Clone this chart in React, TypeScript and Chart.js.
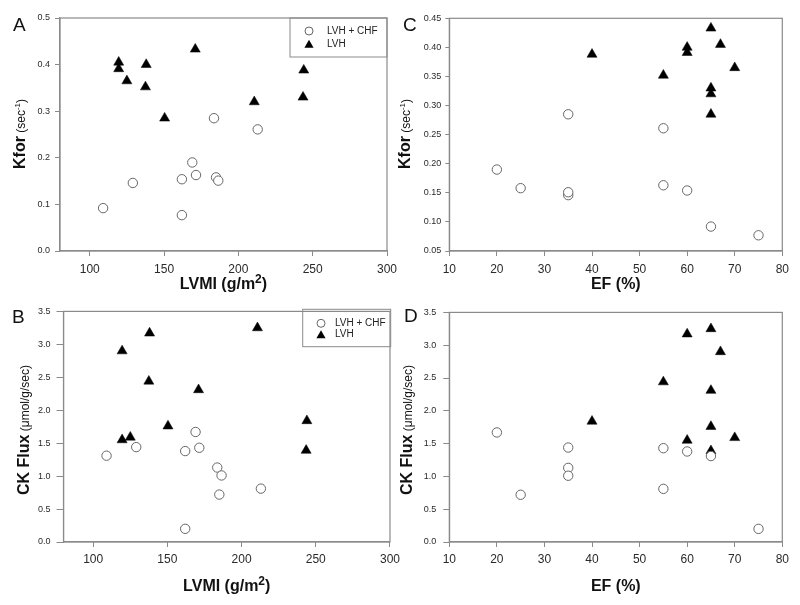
import React, { useEffect, useRef } from "react";
import { Chart, registerables } from "chart.js";

Chart.register(...registerables);

const FONT = "'Liberation Sans', Arial, Helvetica, sans-serif";

// ---- Data: LVH + CHF group (one entry per patient) ----
const chfLVMI = [109, 129, 162, 162, 169, 171.5, 183.6, 185, 186.5, 213];
const chfEF = [65, 35, 60, 75, 20, 55, 35, 25, 35, 55];
const chfKfor = [0.092, 0.146, 0.154, 0.077, 0.19, 0.163, 0.285, 0.158, 0.151, 0.261];
const chfCKFlux = [1.31, 1.44, 1.38, 0.2, 1.67, 1.43, 1.13, 0.72, 1.01, 0.81];

// ---- Data: LVH group ----
const lvhLVMI = [119.5, 119.5, 125, 138, 137.5, 150.4, 171, 210.7, 244, 243.5];
const lvhEF = [67, 60, 70, 60, 55, 65, 65, 65, 40, 65];
const lvhKfor = [0.405, 0.391, 0.365, 0.4, 0.352, 0.285, 0.433, 0.32, 0.388, 0.33];
const lvhCKFlux = [2.9, 1.55, 1.59, 3.17, 2.44, 1.76, 2.31, 3.25, 1.84, 1.39];

const seriesNames = ["LVH + CHF", "LVH"];

// ---- Axis ranges and tick labels ----
const lvmiRange = [80, 300];
const lvmiTicks = [100, 150, 200, 250, 300];
const efTicks = [10, 20, 30, 40, 50, 60, 70, 80];
const kforTicksA = [0, 0.1, 0.2, 0.3, 0.4, 0.5];
const kforTicksC = [0.05, 0.1, 0.15, 0.2, 0.25, 0.3, 0.35, 0.4, 0.45];
const ckTicks = [0, 0.5, 1, 1.5, 2, 2.5, 3, 3.5];

const AXIS = "#8a8a8a";
const TEXT = "#111";
const TICKTEXT = "#2a2a2a";

type Seg = { text: string; font: string; rise?: number };

const kforTitle: Seg[] = [
  { text: "Kfor", font: `bold 16px ${FONT}` },
  { text: " (sec", font: `12px ${FONT}` },
  { text: "-1", font: `8px ${FONT}`, rise: 5 },
  { text: ")", font: `12px ${FONT}` },
];
const ckTitle: Seg[] = [
  { text: "CK Flux", font: `bold 16px ${FONT}` },
  { text: " (\u03bcmol/g/sec)", font: `12px ${FONT}` },
];
const lvmiTitle: Seg[] = [
  { text: "LVMI (g/m", font: `bold 16px ${FONT}` },
  { text: "2", font: `bold 12px ${FONT}`, rise: 6 },
  { text: ")", font: `bold 16px ${FONT}` },
];
const efTitle: Seg[] = [{ text: "EF (%)", font: `bold 16px ${FONT}` }];

type PanelDef = {
  letter: string;
  letterPos: [number, number];
  canvas: { left: number; top: number; w: number; h: number };
  area: { l: number; r: number; t: number; b: number };
  xs: [number[], number[]];
  ys: [number[], number[]];
  xRange: number[];
  xTicks: number[];
  yTicks: number[];
  yDec: number;
  yTick: { len: number; pad: number };
  xTick: { len: number; pad: number };
  xTitle: Seg[];
  xTitleY: number;
  yTitle: Seg[];
  yTitleX: number;
  yTitleCY: number;
  legend?: { l: number; r: number; t: number; b: number; rows: number[]; mx: number; tx: number };
};

const panels: PanelDef[] = [
  {
    letter: "A",
    letterPos: [13, 31],
    canvas: { left: 0, top: 0, w: 405, h: 300 },
    area: { l: 60, r: 387, t: 18, b: 251 },
    xs: [chfLVMI, lvhLVMI],
    ys: [chfKfor, lvhKfor],
    xRange: lvmiRange,
    xTicks: lvmiTicks,
    yTicks: kforTicksA,
    yDec: 1,
    yTick: { len: 5, pad: 5 },
    xTick: { len: 5, pad: 6 },
    xTitle: lvmiTitle,
    xTitleY: 289,
    yTitle: kforTitle,
    yTitleX: 25,
    yTitleCY: 134,
    legend: { l: 290, r: 387, t: 18, b: 57, rows: [31, 44], mx: 309, tx: 327 },
  },
  {
    letter: "C",
    letterPos: [403, 31],
    canvas: { left: 390, top: 0, w: 410, h: 300 },
    area: { l: 449.3, r: 782.3, t: 18.3, b: 251 },
    xs: [chfEF, lvhEF],
    ys: [chfKfor, lvhKfor],
    xRange: [efTicks[0], efTicks[efTicks.length - 1]],
    xTicks: efTicks,
    yTicks: kforTicksC,
    yDec: 2,
    yTick: { len: 4, pad: 4 },
    xTick: { len: 5, pad: 6 },
    xTitle: efTitle,
    xTitleY: 289,
    yTitle: kforTitle,
    yTitleX: 410,
    yTitleCY: 134,
  },
  {
    letter: "B",
    letterPos: [12, 323],
    canvas: { left: 0, top: 300, w: 405, h: 305 },
    area: { l: 63.5, r: 390.7, t: 309.3, b: 542 },
    xs: [chfLVMI, lvhLVMI],
    ys: [chfCKFlux, lvhCKFlux],
    xRange: lvmiRange,
    xTicks: lvmiTicks,
    yTicks: ckTicks,
    yDec: 1,
    yTick: { len: 7, pad: 6 },
    xTick: { len: 5, pad: 5 },
    xTitle: lvmiTitle,
    xTitleY: 591,
    yTitle: ckTitle,
    yTitleX: 29,
    yTitleCY: 430,
    legend: { l: 302.7, r: 390.7, t: 309.3, b: 346.7, rows: [323.3, 334.5], mx: 321, tx: 335 },
  },
  {
    letter: "D",
    letterPos: [404, 322],
    canvas: { left: 390, top: 300, w: 410, h: 305 },
    area: { l: 449.3, r: 782.3, t: 309.3, b: 542 },
    xs: [chfEF, lvhEF],
    ys: [chfCKFlux, lvhCKFlux],
    xRange: [efTicks[0], efTicks[efTicks.length - 1]],
    xTicks: efTicks,
    yTicks: ckTicks,
    yDec: 1,
    yTick: { len: 6, pad: 7 },
    xTick: { len: 5, pad: 5 },
    xTitle: efTitle,
    xTitleY: 591,
    yTitle: ckTitle,
    yTitleX: 412,
    yTitleCY: 430,
  },
];

function drawRich(ctx: CanvasRenderingContext2D, segs: Seg[], x: number, y: number, rotated: boolean) {
  ctx.save();
  ctx.translate(x, y);
  if (rotated) ctx.rotate(-Math.PI / 2);
  ctx.textAlign = "left";
  ctx.textBaseline = "alphabetic";
  ctx.fillStyle = TEXT;
  let total = 0;
  const widths: number[] = [];
  for (const s of segs) {
    ctx.font = s.font;
    const w = ctx.measureText(s.text).width;
    widths.push(w);
    total += w;
  }
  let cx = -total / 2;
  segs.forEach((s, i) => {
    ctx.font = s.font;
    ctx.fillText(s.text, cx, s.rise ? -s.rise : 0);
    cx += widths[i];
  });
  ctx.restore();
}

function drawCircle(ctx: CanvasRenderingContext2D, x: number, y: number, r: number) {
  ctx.beginPath();
  ctx.arc(x, y, r, 0, Math.PI * 2);
  ctx.fillStyle = "#fff";
  ctx.fill();
  ctx.strokeStyle = "#666";
  ctx.lineWidth = 1;
  ctx.stroke();
}

function drawTriangle(ctx: CanvasRenderingContext2D, x: number, y: number, r: number) {
  ctx.beginPath();
  for (let k = 0; k < 3; k++) {
    const a = (k * 2 * Math.PI) / 3;
    const px = x + Math.sin(a) * r;
    const py = y - Math.cos(a) * r;
    if (k === 0) ctx.moveTo(px, py);
    else ctx.lineTo(px, py);
  }
  ctx.closePath();
  ctx.fillStyle = "#000";
  ctx.fill();
}

function Panel({ p }: { p: PanelDef }) {
  const ref = useRef<HTMLCanvasElement | null>(null);

  useEffect(() => {
    const canvas = ref.current;
    if (!canvas) return;
    const ox = p.canvas.left;
    const oy = p.canvas.top;
    const padLeft = 0;
    const padTop = p.area.t - oy;
    const padRight = ox + p.canvas.w - p.area.r;
    const yWidth = p.area.l - ox - padLeft;
    const xHeight = oy + p.canvas.h - p.area.b;

    const decor = {
      id: "decor" + p.letter,
      afterDraw(chart: any) {
        const ctx: CanvasRenderingContext2D = chart.ctx;
        const ca = chart.chartArea;
        ctx.save();
        ctx.strokeStyle = AXIS;
        ctx.lineWidth = 1.2;
        ctx.strokeRect(ca.left, ca.top, ca.right - ca.left, ca.bottom - ca.top);

        // panel letter
        ctx.font = `19px ${FONT}`;
        ctx.fillStyle = TEXT;
        ctx.textAlign = "left";
        ctx.textBaseline = "alphabetic";
        ctx.fillText(p.letter, p.letterPos[0] - ox, p.letterPos[1] - oy);

        // axis titles
        drawRich(ctx, p.xTitle, (ca.left + ca.right) / 2, p.xTitleY - oy, false);
        drawRich(ctx, p.yTitle, p.yTitleX - ox, p.yTitleCY - oy, true);

        // legend
        if (p.legend) {
          const lg = p.legend;
          ctx.strokeStyle = AXIS;
          ctx.lineWidth = 1;
          ctx.strokeRect(lg.l - ox, lg.t - oy, lg.r - lg.l, lg.b - lg.t);
          drawCircle(ctx, lg.mx - ox, lg.rows[0] - oy, 4);
          drawTriangle(ctx, lg.mx - ox, lg.rows[1] - oy + 1, 5.3);
          ctx.font = `10px ${FONT}`;
          ctx.fillStyle = "#222";
          ctx.textBaseline = "middle";
          ctx.fillText(seriesNames[0], lg.tx - ox, lg.rows[0] - oy);
          ctx.fillText(seriesNames[1], lg.tx - ox, lg.rows[1] - oy);
        }
        ctx.restore();
      },
    };

    const chart = new Chart(canvas, {
      type: "scatter",
      data: {
        datasets: [
          {
            label: seriesNames[0],
            data: p.xs[0].map((x, i) => ({ x, y: p.ys[0][i] })),
            pointStyle: "circle",
            pointRadius: 4.7,
            pointBackgroundColor: "#fff",
            pointBorderColor: "#666",
            pointBorderWidth: 1,
          },
          {
            label: seriesNames[1],
            data: p.xs[1].map((x, i) => ({ x, y: p.ys[1][i] })),
            pointStyle: "triangle",
            pointRadius: 5.8,
            pointBackgroundColor: "#000",
            pointBorderColor: "#000",
            pointBorderWidth: 0.5,
          },
        ],
      },
      options: {
        responsive: false,
        animation: false,
        devicePixelRatio: 1,
        layout: { padding: { left: padLeft, top: padTop, right: padRight, bottom: 0 } },
        plugins: {
          legend: { display: false },
          tooltip: { enabled: false },
        },
        scales: {
          x: {
            type: "linear",
            min: p.xRange[0],
            max: p.xRange[1],
            afterBuildTicks: (s: any) => {
              s.ticks = p.xTicks.map((v) => ({ value: v }));
            },
            afterFit: (s: any) => {
              s.height = xHeight;
            },
            grid: {
              display: true,
              drawOnChartArea: false,
              drawTicks: true,
              tickLength: p.xTick.len,
              color: AXIS,
              lineWidth: 1,
            },
            border: { display: true, color: AXIS, width: 1.2 },
            ticks: {
              font: { family: FONT, size: 12 },
              color: TICKTEXT,
              padding: p.xTick.pad,
              maxRotation: 0,
              autoSkip: false,
              callback: (v: any) => String(v),
            },
          },
          y: {
            type: "linear",
            min: p.yTicks[0],
            max: p.yTicks[p.yTicks.length - 1],
            afterBuildTicks: (s: any) => {
              s.ticks = p.yTicks.map((v) => ({ value: v }));
            },
            afterFit: (s: any) => {
              s.width = yWidth;
            },
            grid: {
              display: true,
              drawOnChartArea: false,
              drawTicks: true,
              tickLength: p.yTick.len,
              color: AXIS,
              lineWidth: 1,
            },
            border: { display: true, color: AXIS, width: 1.2 },
            ticks: {
              font: { family: FONT, size: 9 },
              color: TICKTEXT,
              padding: p.yTick.pad,
              autoSkip: false,
              callback: (v: any) => Number(v).toFixed(p.yDec),
            },
          },
        },
      },
      plugins: [decor],
    } as any);

    return () => chart.destroy();
  }, [p]);

  return (
    <canvas
      ref={ref}
      width={p.canvas.w}
      height={p.canvas.h}
      style={{
        position: "absolute",
        left: p.canvas.left,
        top: p.canvas.top,
        width: p.canvas.w,
        height: p.canvas.h,
      }}
    />
  );
}

export default function App() {
  return (
    <div
      style={{
        position: "absolute",
        left: 0,
        top: 0,
        width: 800,
        height: 605,
        background: "#fff",
        overflow: "hidden",
      }}
    >
      {panels.map((p) => (
        <Panel key={p.letter} p={p} />
      ))}
    </div>
  );
}
